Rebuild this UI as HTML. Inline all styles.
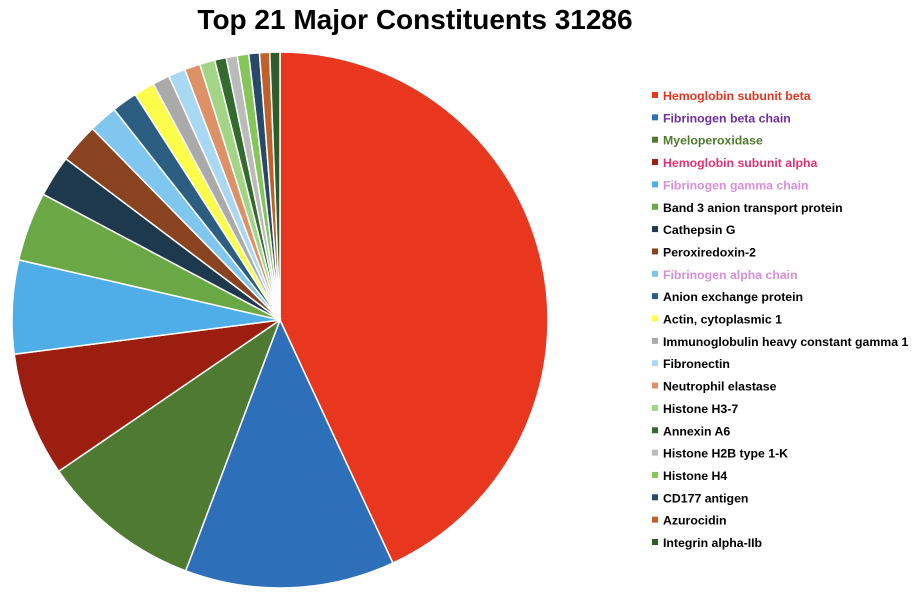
<!DOCTYPE html>
<html><head><meta charset="utf-8"><style>
body{margin:0;width:918px;height:598px;background:#fff;overflow:hidden;font-family:"Liberation Sans",sans-serif}
#title{position:absolute;left:0;width:830px;top:4px;text-align:center;font-weight:bold;font-size:28px;color:#000}
svg{position:absolute;left:0;top:0}
</style></head><body>
<div id="title">Top 21 Major Constituents 31286</div>
<svg id="chart" width="918" height="598"></svg>
<script>
const labels=["Hemoglobin subunit beta","Fibrinogen beta chain","Myeloperoxidase","Hemoglobin subunit alpha","Fibrinogen gamma chain","Band 3 anion transport protein","Cathepsin G","Peroxiredoxin-2","Fibrinogen alpha chain","Anion exchange protein","Actin, cytoplasmic 1","Immunoglobulin heavy constant gamma 1","Fibronectin","Neutrophil elastase","Histone H3-7","Annexin A6","Histone H2B type 1-K","Histone H4","CD177 antigen","Azurocidin","Integrin alpha-IIb"];
const values=[155,45.5,35,27,20.3,15,9,8.6,6.2,5.5,4.5,3.7,3.7,3.4,3.3,2.5,2.4,2.5,2.3,2.2,2.2];
const colors=["#e8361f","#2e6fba","#4e7a31","#9c1e10","#4fade8","#6aa745","#1e384d","#8a4320","#7fc7ee","#2b5e80","#fcfc4a","#aaaaaa","#a8d8f2","#de9066","#a2d585","#356a2f","#bbbbbb","#86c55a","#274a6a","#c0602a","#2e5c2a"];
const textColors=["#e8341f","#7030a0","#4e7a2e","#e8306e","#d98fd9","#000","#000","#000","#d98fd9"];
const svg=document.getElementById('chart');const NS="http://www.w3.org/2000/svg";
const cx=280,cy=320,r=268;const total=values.reduce((a,b)=>a+b,0);
let a0=0;
values.forEach((v,i)=>{
 const a1=a0+v/total*2*Math.PI;
 const x0=cx+r*Math.sin(a0),y0=cy-r*Math.cos(a0),x1=cx+r*Math.sin(a1),y1=cy-r*Math.cos(a1);
 const p=document.createElementNS(NS,'path');
 p.setAttribute('d',`M${cx},${cy}L${x0},${y0}A${r},${r} 0 ${a1-a0>Math.PI?1:0} 1 ${x1},${y1}Z`);
 p.setAttribute('fill',colors[i]);p.setAttribute('stroke','#fff');p.setAttribute('stroke-width','1.5');
 
 
 svg.appendChild(p);a0=a1;
 const g=document.createElementNS(NS,'g');
 
 
 const y=96+i*22.35;
 const rc=document.createElementNS(NS,'rect');
 rc.setAttribute('x',652);rc.setAttribute('y',y-4);rc.setAttribute('width',6);rc.setAttribute('height',6);rc.setAttribute('fill',colors[i]);
 const t=document.createElementNS(NS,'text');
 t.setAttribute('x',663);t.setAttribute('y',y+4);t.setAttribute('font-size','12.3');t.setAttribute('font-weight','bold');
 t.setAttribute('textLength',String(Math.round(labels[i].length*0)||''));t.removeAttribute('textLength');
 t.setAttribute('fill',textColors[i]||'#000');t.textContent=labels[i];
 g.appendChild(rc);g.appendChild(t);svg.appendChild(g);
});
</script>
</body></html>
